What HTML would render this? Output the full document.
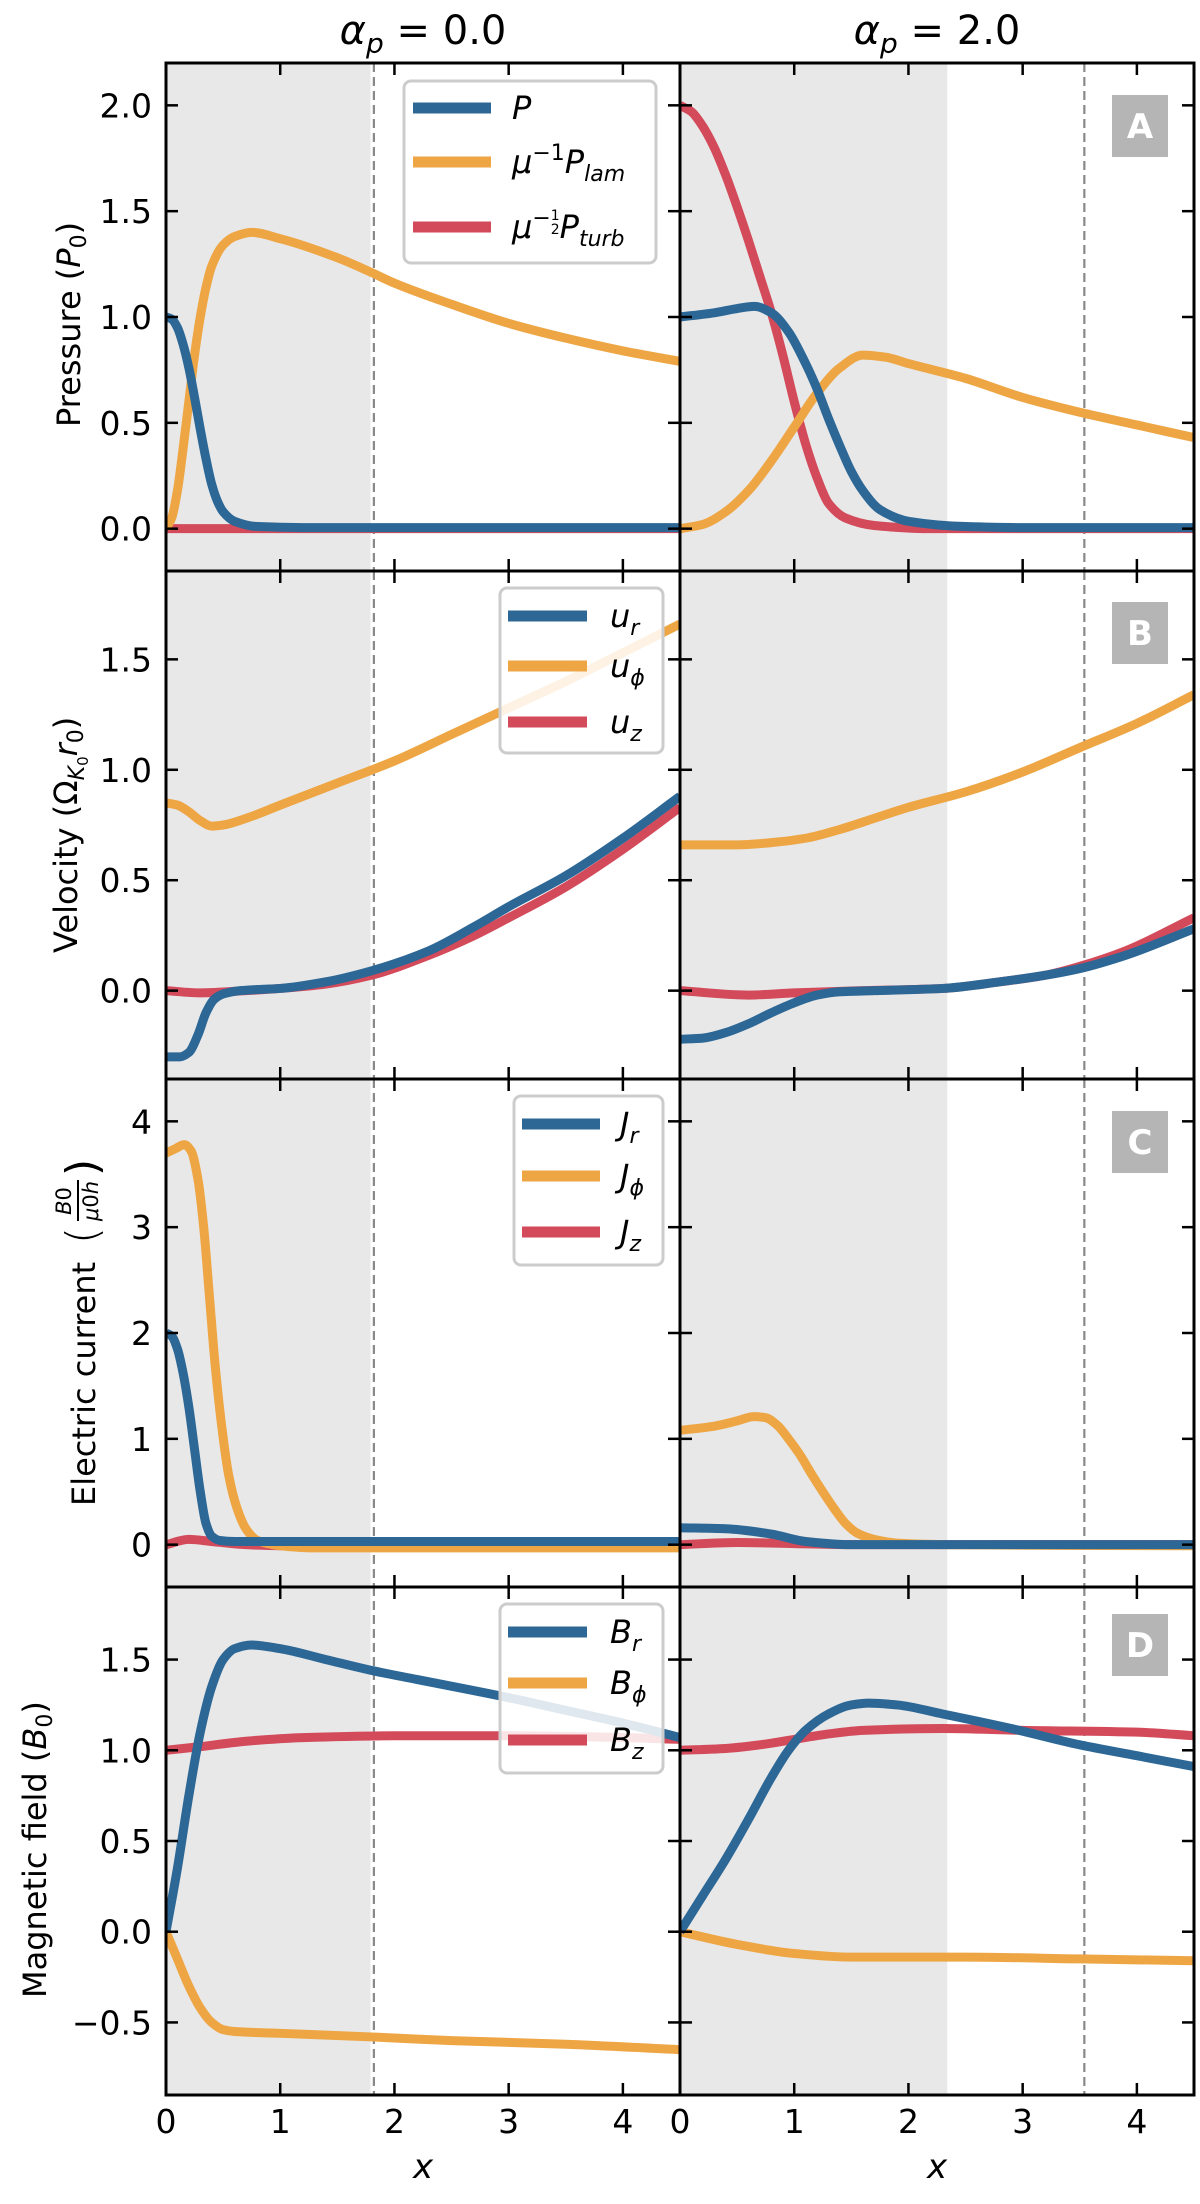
<!DOCTYPE html>
<html><head><meta charset="utf-8"><style>
html,body{margin:0;padding:0;background:#fff;}
svg{display:block;font-family:"DejaVu Sans","Liberation Sans",sans-serif;}
</style></head><body>
<svg id="fig" width="1200" height="2204" viewBox="0 0 1200 2204" xmlns="http://www.w3.org/2000/svg">
<defs></defs>
<g id="layer-bg"></g>
<g id="layer-lines"></g>
<g id="layer-axes"></g>
<g id="layer-legend"></g>

<text x="423" y="44" font-size="40" text-anchor="middle"><tspan font-style="italic">α</tspan><tspan font-style="italic" font-size="28" dy="9">p</tspan><tspan dy="-9"> = 0.0</tspan></text>
<text x="937" y="44" font-size="40" text-anchor="middle"><tspan font-style="italic">α</tspan><tspan font-style="italic" font-size="28" dy="9">p</tspan><tspan dy="-9"> = 2.0</tspan></text>

<text transform="translate(80,427) rotate(-90)" font-size="32">Pressure (<tspan font-style="italic">P</tspan><tspan font-size="22" dy="6">0</tspan><tspan dy="-6">)</tspan></text>
<text transform="translate(77,953) rotate(-90)" font-size="32">Velocity (Ω<tspan font-size="22" font-style="italic" dy="7">K</tspan><tspan font-size="15" dy="4">0</tspan><tspan font-style="italic" dy="-11">r</tspan><tspan font-size="22" dy="6">0</tspan><tspan dy="-6">)</tspan></text>
<g transform="translate(95,1506) rotate(-90)">
<text x="0" y="0" font-size="32">Electric current</text>
<text x="262" y="2" font-size="44" font-weight="100">(</text>
<text x="305" y="-24" font-size="21" text-anchor="middle"><tspan font-style="italic">B</tspan>0</text>
<line x1="285" y1="-17" x2="326" y2="-17" stroke="#000" stroke-width="2"/>
<text x="305" y="3" font-size="21" text-anchor="middle"><tspan font-style="italic">μ</tspan>0<tspan font-style="italic">h</tspan></text>
<text x="330" y="2" font-size="44">)</text>
</g>
<text transform="translate(46,1998) rotate(-90)" font-size="32">Magnetic field (<tspan font-style="italic">B</tspan><tspan font-size="22" dy="6">0</tspan><tspan dy="-6">)</tspan></text>

<text x="423" y="2178" font-size="34" font-style="italic" text-anchor="middle">x</text>
<text x="937" y="2178" font-size="34" font-style="italic" text-anchor="middle">x</text>
</svg>
<script>
// ---- Panel A (pressure) ----
const aL_P_x=[0,0.05,0.1,0.15,0.2,0.25,0.3,0.35,0.4,0.45,0.5,0.6,0.8,1.2,4.5];
const aL_P_y=[1.0,0.99,0.95,0.87,0.76,0.62,0.47,0.33,0.21,0.13,0.08,0.035,0.01,0.005,0.005];
const aL_Plam_x=[0,0.05,0.1,0.15,0.2,0.25,0.3,0.35,0.4,0.5,0.6,0.75,1.0,1.5,1.8,2.0,2.5,3.0,3.5,4.0,4.5];
const aL_Plam_y=[0,0.05,0.18,0.38,0.6,0.82,1.0,1.14,1.24,1.34,1.38,1.40,1.37,1.28,1.21,1.16,1.06,0.97,0.9,0.84,0.79];
const aL_Pt_x=[0,4.5];
const aL_Pt_y=[0,0];
const aR_P_x=[0,0.3,0.5,0.65,0.8,0.95,1.1,1.2,1.3,1.4,1.5,1.6,1.75,2.0,2.5,3.0,4.5];
const aR_P_y=[1.0,1.02,1.04,1.05,1.02,0.93,0.78,0.66,0.52,0.39,0.27,0.18,0.09,0.035,0.01,0.005,0.005];
const aR_Plam_x=[0,0.2,0.4,0.6,0.8,1.0,1.2,1.4,1.6,1.8,2.0,2.5,3.0,3.5,4.0,4.5];
const aR_Plam_y=[0,0.02,0.08,0.18,0.32,0.48,0.64,0.76,0.82,0.81,0.78,0.71,0.62,0.55,0.49,0.43];
const aR_Pt_x=[0,0.1,0.2,0.3,0.4,0.5,0.6,0.7,0.8,0.9,1.0,1.1,1.2,1.3,1.45,1.7,2.2,4.5];
const aR_Pt_y=[2.0,1.97,1.9,1.8,1.67,1.52,1.36,1.19,1.02,0.82,0.6,0.4,0.24,0.12,0.05,0.015,0,0];
// ---- Panel B (velocity) ----
const bL_ur_x=[0,0.12,0.2,0.28,0.35,0.42,0.5,0.65,0.8,1.0,1.4,1.8,2.3,2.7,3.0,3.5,4.0,4.5];
const bL_ur_y=[-0.3,-0.3,-0.28,-0.2,-0.1,-0.04,-0.015,0,0.005,0.01,0.04,0.09,0.18,0.29,0.38,0.52,0.69,0.88];
const bL_uphi_x=[0,0.1,0.2,0.3,0.4,0.5,0.7,1.0,1.5,2.0,2.5,3.0,3.5,4.0,4.5];
const bL_uphi_y=[0.85,0.84,0.81,0.77,0.745,0.75,0.78,0.84,0.94,1.04,1.16,1.28,1.40,1.53,1.66];
const bL_uz_x=[0,0.3,0.7,1.0,1.4,1.8,2.3,2.7,3.0,3.5,4.0,4.5];
const bL_uz_y=[0,-0.01,0,0.01,0.03,0.07,0.16,0.25,0.33,0.47,0.64,0.83];
const bR_ur_x=[0,0.2,0.4,0.6,0.8,1.0,1.2,1.4,1.7,2.3,2.8,3.2,3.5,3.9,4.5];
const bR_ur_y=[-0.22,-0.215,-0.19,-0.15,-0.1,-0.055,-0.02,-0.005,0,0.01,0.04,0.07,0.1,0.16,0.28];
const bR_uphi_x=[0,0.5,0.8,1.1,1.4,1.7,2.0,2.5,3.0,3.5,4.0,4.5];
const bR_uphi_y=[0.66,0.66,0.67,0.69,0.73,0.78,0.83,0.9,0.99,1.1,1.21,1.34];
const bR_uz_x=[0,0.6,1.0,1.6,2.3,2.8,3.2,3.5,3.9,4.5];
const bR_uz_y=[0,-0.02,-0.01,0,0.01,0.04,0.07,0.11,0.18,0.33];
// ---- Panel C (current) ----
const cL_Jr_x=[0,0.05,0.1,0.15,0.2,0.25,0.3,0.35,0.4,0.47,0.6,4.5];
const cL_Jr_y=[2.0,1.97,1.85,1.62,1.3,0.9,0.5,0.2,0.08,0.04,0.03,0.03];
const cL_Jphi_x=[0,0.08,0.16,0.22,0.28,0.33,0.38,0.43,0.49,0.55,0.62,0.7,0.8,1.0,1.3,4.5];
const cL_Jphi_y=[3.7,3.74,3.78,3.72,3.45,3.0,2.35,1.7,1.1,0.65,0.35,0.15,0.04,-0.01,-0.03,-0.03];
const cL_Jz_x=[0,0.2,0.4,0.7,1.0,4.5];
const cL_Jz_y=[0,0.05,0.03,0.0,-0.01,-0.01];
const cR_Jr_x=[0,0.4,0.8,1.1,1.5,4.5];
const cR_Jr_y=[0.16,0.15,0.1,0.03,0,0];
const cR_Jphi_x=[0,0.3,0.5,0.65,0.75,0.85,0.95,1.05,1.15,1.25,1.35,1.45,1.55,1.7,1.9,2.3,4.5];
const cR_Jphi_y=[1.08,1.12,1.17,1.21,1.2,1.13,1.0,0.85,0.67,0.5,0.34,0.2,0.11,0.05,0.015,0,-0.01];
const cR_Jz_x=[0,0.5,1.0,1.5,4.5];
const cR_Jz_y=[0,0.02,0.01,0,0];
// ---- Panel D (magnetic field) ----
const dL_Br_x=[0,0.1,0.2,0.3,0.4,0.5,0.6,0.75,1.0,1.4,1.8,2.2,3.0,3.5,4.0,4.5];
const dL_Br_y=[0,0.35,0.75,1.1,1.35,1.5,1.56,1.58,1.56,1.5,1.44,1.39,1.29,1.22,1.15,1.07];
const dL_Bphi_x=[0,0.1,0.2,0.3,0.4,0.5,0.6,1.0,1.8,2.5,3.5,4.5];
const dL_Bphi_y=[0,-0.15,-0.3,-0.42,-0.5,-0.54,-0.55,-0.56,-0.58,-0.6,-0.62,-0.65];
const dL_Bz_x=[0,0.3,0.7,1.2,2.0,3.0,4.0,4.5];
const dL_Bz_y=[1.0,1.02,1.05,1.07,1.08,1.08,1.07,1.06];
const dR_Br_x=[0,0.2,0.4,0.6,0.8,0.95,1.1,1.3,1.5,1.65,1.9,2.3,2.9,3.5,4.0,4.5];
const dR_Br_y=[0,0.2,0.4,0.62,0.85,1.0,1.11,1.2,1.25,1.26,1.25,1.2,1.12,1.03,0.97,0.91];
const dR_Bphi_x=[0,0.5,1.0,1.5,2.5,3.5,4.5];
const dR_Bphi_y=[0,-0.07,-0.12,-0.14,-0.14,-0.15,-0.16];
const dR_Bz_x=[0,0.4,0.7,1.0,1.3,1.6,2.3,3.0,4.0,4.5];
const dR_Bz_y=[1.0,1.01,1.03,1.06,1.09,1.11,1.12,1.11,1.1,1.08];
// ---- axis config ----
const rowYlims=[[-0.2,2.2],[-0.4,1.9],[-0.4,4.4],[-0.9,1.9]];
const rowTicks=[[0,0.5,1.0,1.5,2.0],[0,0.5,1.0,1.5],[0,1,2,3,4],[-0.5,0,0.5,1.0,1.5]];
const rowTickLabels=[["0.0","0.5","1.0","1.5","2.0"],["0.0","0.5","1.0","1.5"],["0","1","2","3","4"],["−0.5","0.0","0.5","1.0","1.5"]];
const xTicks=[0,1,2,3,4];
const xTickLabels=["0","1","2","3","4"];
const shadeEnd=[1.79,2.34];
const dashedX=[1.82,3.54];
const panelLetters=["A","B","C","D"];

const NS="http://www.w3.org/2000/svg";
const colX0=[166,680], PW=514, rowY0=[63,571,1079,1587], PH=508, XMAX=4.5;
const BLUE="#2c6796", ORANGE="#eea645", RED="#d34a5a";
function sx(c,x){return colX0[c]+x/XMAX*PW;}
function sy(r,v){const a=rowYlims[r][0],b=rowYlims[r][1];return rowY0[r]+PH-(v-a)/(b-a)*PH;}
function mk(tag,attrs,parent){const e=document.createElementNS(NS,tag);for(const k in attrs)e.setAttribute(k,attrs[k]);parent.appendChild(e);return e;}
function monoPath(c,r,xs,ys){
  const n=xs.length;if(n<2)return "";
  const d=[],m=new Array(n);
  for(let i=0;i<n-1;i++)d.push((ys[i+1]-ys[i])/(xs[i+1]-xs[i]));
  m[0]=d[0];m[n-1]=d[n-2];
  for(let i=1;i<n-1;i++){ if(d[i-1]*d[i]<=0)m[i]=0; else {const w1=2*(xs[i+1]-xs[i])+(xs[i]-xs[i-1]),w2=(xs[i+1]-xs[i])+2*(xs[i]-xs[i-1]);m[i]=(w1+w2)/(w1/d[i-1]+w2/d[i]);} }
  let p="M"+sx(c,xs[0]).toFixed(2)+","+sy(r,ys[0]).toFixed(2);
  for(let i=0;i<n-1;i++){const h=xs[i+1]-xs[i];
    const x1=xs[i]+h/3,y1=ys[i]+m[i]*h/3,x2=xs[i+1]-h/3,y2=ys[i+1]-m[i+1]*h/3;
    p+=" C"+sx(c,x1).toFixed(2)+","+sy(r,y1).toFixed(2)+" "+sx(c,x2).toFixed(2)+","+sy(r,y2).toFixed(2)+" "+sx(c,xs[i+1]).toFixed(2)+","+sy(r,ys[i+1]).toFixed(2);}
  return p;
}
const bg=document.getElementById("layer-bg"), ln=document.getElementById("layer-lines"), ax=document.getElementById("layer-axes"), lg=document.getElementById("layer-legend"), defs=document.querySelector("defs");

const panels=[
 [[[aL_Pt_x,aL_Pt_y,RED,"p-turb"],[aL_Plam_x,aL_Plam_y,ORANGE,"p-lam"],[aL_P_x,aL_P_y,BLUE,"p"]],
  [[aR_Pt_x,aR_Pt_y,RED,"p-turb"],[aR_Plam_x,aR_Plam_y,ORANGE,"p-lam"],[aR_P_x,aR_P_y,BLUE,"p"]]],
 [[[bL_uz_x,bL_uz_y,RED,"u-z"],[bL_uphi_x,bL_uphi_y,ORANGE,"u-phi"],[bL_ur_x,bL_ur_y,BLUE,"u-r"]],
  [[bR_uz_x,bR_uz_y,RED,"u-z"],[bR_uphi_x,bR_uphi_y,ORANGE,"u-phi"],[bR_ur_x,bR_ur_y,BLUE,"u-r"]]],
 [[[cL_Jz_x,cL_Jz_y,RED,"j-z"],[cL_Jphi_x,cL_Jphi_y,ORANGE,"j-phi"],[cL_Jr_x,cL_Jr_y,BLUE,"j-r"]],
  [[cR_Jz_x,cR_Jz_y,RED,"j-z"],[cR_Jphi_x,cR_Jphi_y,ORANGE,"j-phi"],[cR_Jr_x,cR_Jr_y,BLUE,"j-r"]]],
 [[[dL_Bz_x,dL_Bz_y,RED,"b-z"],[dL_Bphi_x,dL_Bphi_y,ORANGE,"b-phi"],[dL_Br_x,dL_Br_y,BLUE,"b-r"]],
  [[dR_Bz_x,dR_Bz_y,RED,"b-z"],[dR_Bphi_x,dR_Bphi_y,ORANGE,"b-phi"],[dR_Br_x,dR_Br_y,BLUE,"b-r"]]]
];

for(let r=0;r<4;r++){
 for(let c=0;c<2;c++){
  const id="clip"+r+c;
  const cp=mk("clipPath",{id:id},defs);mk("rect",{x:colX0[c],y:rowY0[r],width:PW,height:PH},cp);
  const sh=mk("rect",{x:colX0[c],y:rowY0[r],width:sx(c,shadeEnd[c])-colX0[c],height:PH,fill:"#e8e8e8"},bg);
  
  
  const dl=mk("line",{x1:sx(c,dashedX[c]),x2:sx(c,dashedX[c]),y1:rowY0[r],y2:rowY0[r]+PH,stroke:"#888",'stroke-width':2.2,'stroke-dasharray':"9,5"},bg);
  
  
  const g=mk("g",{'clip-path':"url(#"+id+")"},ln);
  for(const s of panels[r][c]){
   const p=mk("path",{d:monoPath(c,r,s[0],s[1]),fill:"none",stroke:s[2],'stroke-width':9,'stroke-linejoin':"round"},g);
   
   
  }
  const fr=mk("rect",{x:colX0[c],y:rowY0[r],width:PW,height:PH,fill:"none",stroke:"#000",'stroke-width':3},ax);
  
  
  for(let i=0;i<xTicks.length;i++){
   const X=sx(c,xTicks[i]);
   const t1=mk("line",{x1:X,x2:X,y1:rowY0[r],y2:rowY0[r]+12,stroke:"#000",'stroke-width':2.5},ax);
   
   
   const t2=mk("line",{x1:X,x2:X,y1:rowY0[r]+PH,y2:rowY0[r]+PH-12,stroke:"#000",'stroke-width':2.5},ax);
   
   
   if(r===3){
    const tl=mk("text",{x:X,y:2133,'font-size':33,'text-anchor':"middle"},ax);tl.textContent=xTickLabels[i];
    
    
   }
  }
  for(let i=0;i<rowTicks[r].length;i++){
   const Y=sy(r,rowTicks[r][i]);
   const t1=mk("line",{x1:colX0[c],x2:colX0[c]+12,y1:Y,y2:Y,stroke:"#000",'stroke-width':2.5},ax);
   
   
   const t2=mk("line",{x1:colX0[c]+PW,x2:colX0[c]+PW-12,y1:Y,y2:Y,stroke:"#000",'stroke-width':2.5},ax);
   
   
   if(c===0){
    const tl=mk("text",{x:152,y:Y+12,'font-size':33,'text-anchor':"end"},ax);tl.textContent=rowTickLabels[r][i];
    
    
   }
  }
 }
 const lb=mk("g",{},lg);
 
 
 const boxY=[95,602,1111,1614][r];
 mk("rect",{x:1112,y:boxY,width:56,height:62,fill:"#b5b5b5"},lb);
 const lt=mk("text",{x:1140,y:boxY+43,'font-size':34,'font-weight':"bold",fill:"#fff",'text-anchor':"middle"},lb);lt.textContent=panelLetters[r];
}

const legends=[
 {x:404,y:81,w:252,h:182,ys:[108,162,227],lx:[413,491],tx:512},
 {x:500,y:588,w:163,h:165,ys:[616,666,722],lx:[508,587],tx:610},
 {x:514,y:1096,w:149,h:169,ys:[1124,1176,1232],lx:[522,600],tx:620},
 {x:500,y:1604,w:163,h:169,ys:[1632,1683,1740],lx:[508,587],tx:610}
];
const legendHTML=[
 ['<tspan font-style="italic">P</tspan>',
  '<tspan font-style="italic">μ</tspan><tspan font-size="22" dy="-13">−1</tspan><tspan font-style="italic" dy="13">P</tspan><tspan font-style="italic" font-size="22" dy="8">lam</tspan>',
  '<tspan font-style="italic">μ</tspan><tspan font-size="22" dy="-13">−</tspan><tspan font-size="14" dy="-5">1</tspan><tspan font-size="14" dx="-9" dy="14">2</tspan><tspan font-style="italic" dy="4">P</tspan><tspan font-style="italic" font-size="22" dy="8">turb</tspan>'],
 ['<tspan font-style="italic">u</tspan><tspan font-style="italic" font-size="22" dy="8">r</tspan>','<tspan font-style="italic">u</tspan><tspan font-style="italic" font-size="22" dy="8">ϕ</tspan>','<tspan font-style="italic">u</tspan><tspan font-style="italic" font-size="22" dy="8">z</tspan>'],
 ['<tspan font-style="italic">J</tspan><tspan font-style="italic" font-size="22" dy="8">r</tspan>','<tspan font-style="italic">J</tspan><tspan font-style="italic" font-size="22" dy="8">ϕ</tspan>','<tspan font-style="italic">J</tspan><tspan font-style="italic" font-size="22" dy="8">z</tspan>'],
 ['<tspan font-style="italic">B</tspan><tspan font-style="italic" font-size="22" dy="8">r</tspan>','<tspan font-style="italic">B</tspan><tspan font-style="italic" font-size="22" dy="8">ϕ</tspan>','<tspan font-style="italic">B</tspan><tspan font-style="italic" font-size="22" dy="8">z</tspan>']
];
const legCols=[BLUE,ORANGE,RED];
for(let r=0;r<4;r++){
 const L=legends[r];
 const g=mk("g",{},lg);
 
 
 mk("rect",{x:L.x,y:L.y,width:L.w,height:L.h,rx:7,fill:"#fff",'fill-opacity':0.85,stroke:"#cccccc",'stroke-width':3},g);
 for(let i=0;i<3;i++){
  const e=mk("g",{},g);
  
  
  mk("line",{x1:L.lx[0],x2:L.lx[1],y1:L.ys[i],y2:L.ys[i],stroke:legCols[i],'stroke-width':11},e);
  const t=mk("text",{x:L.tx,y:L.ys[i]+11,'font-size':32},e);
  t.innerHTML=legendHTML[r][i];
 }
}
</script>
</body></html>
